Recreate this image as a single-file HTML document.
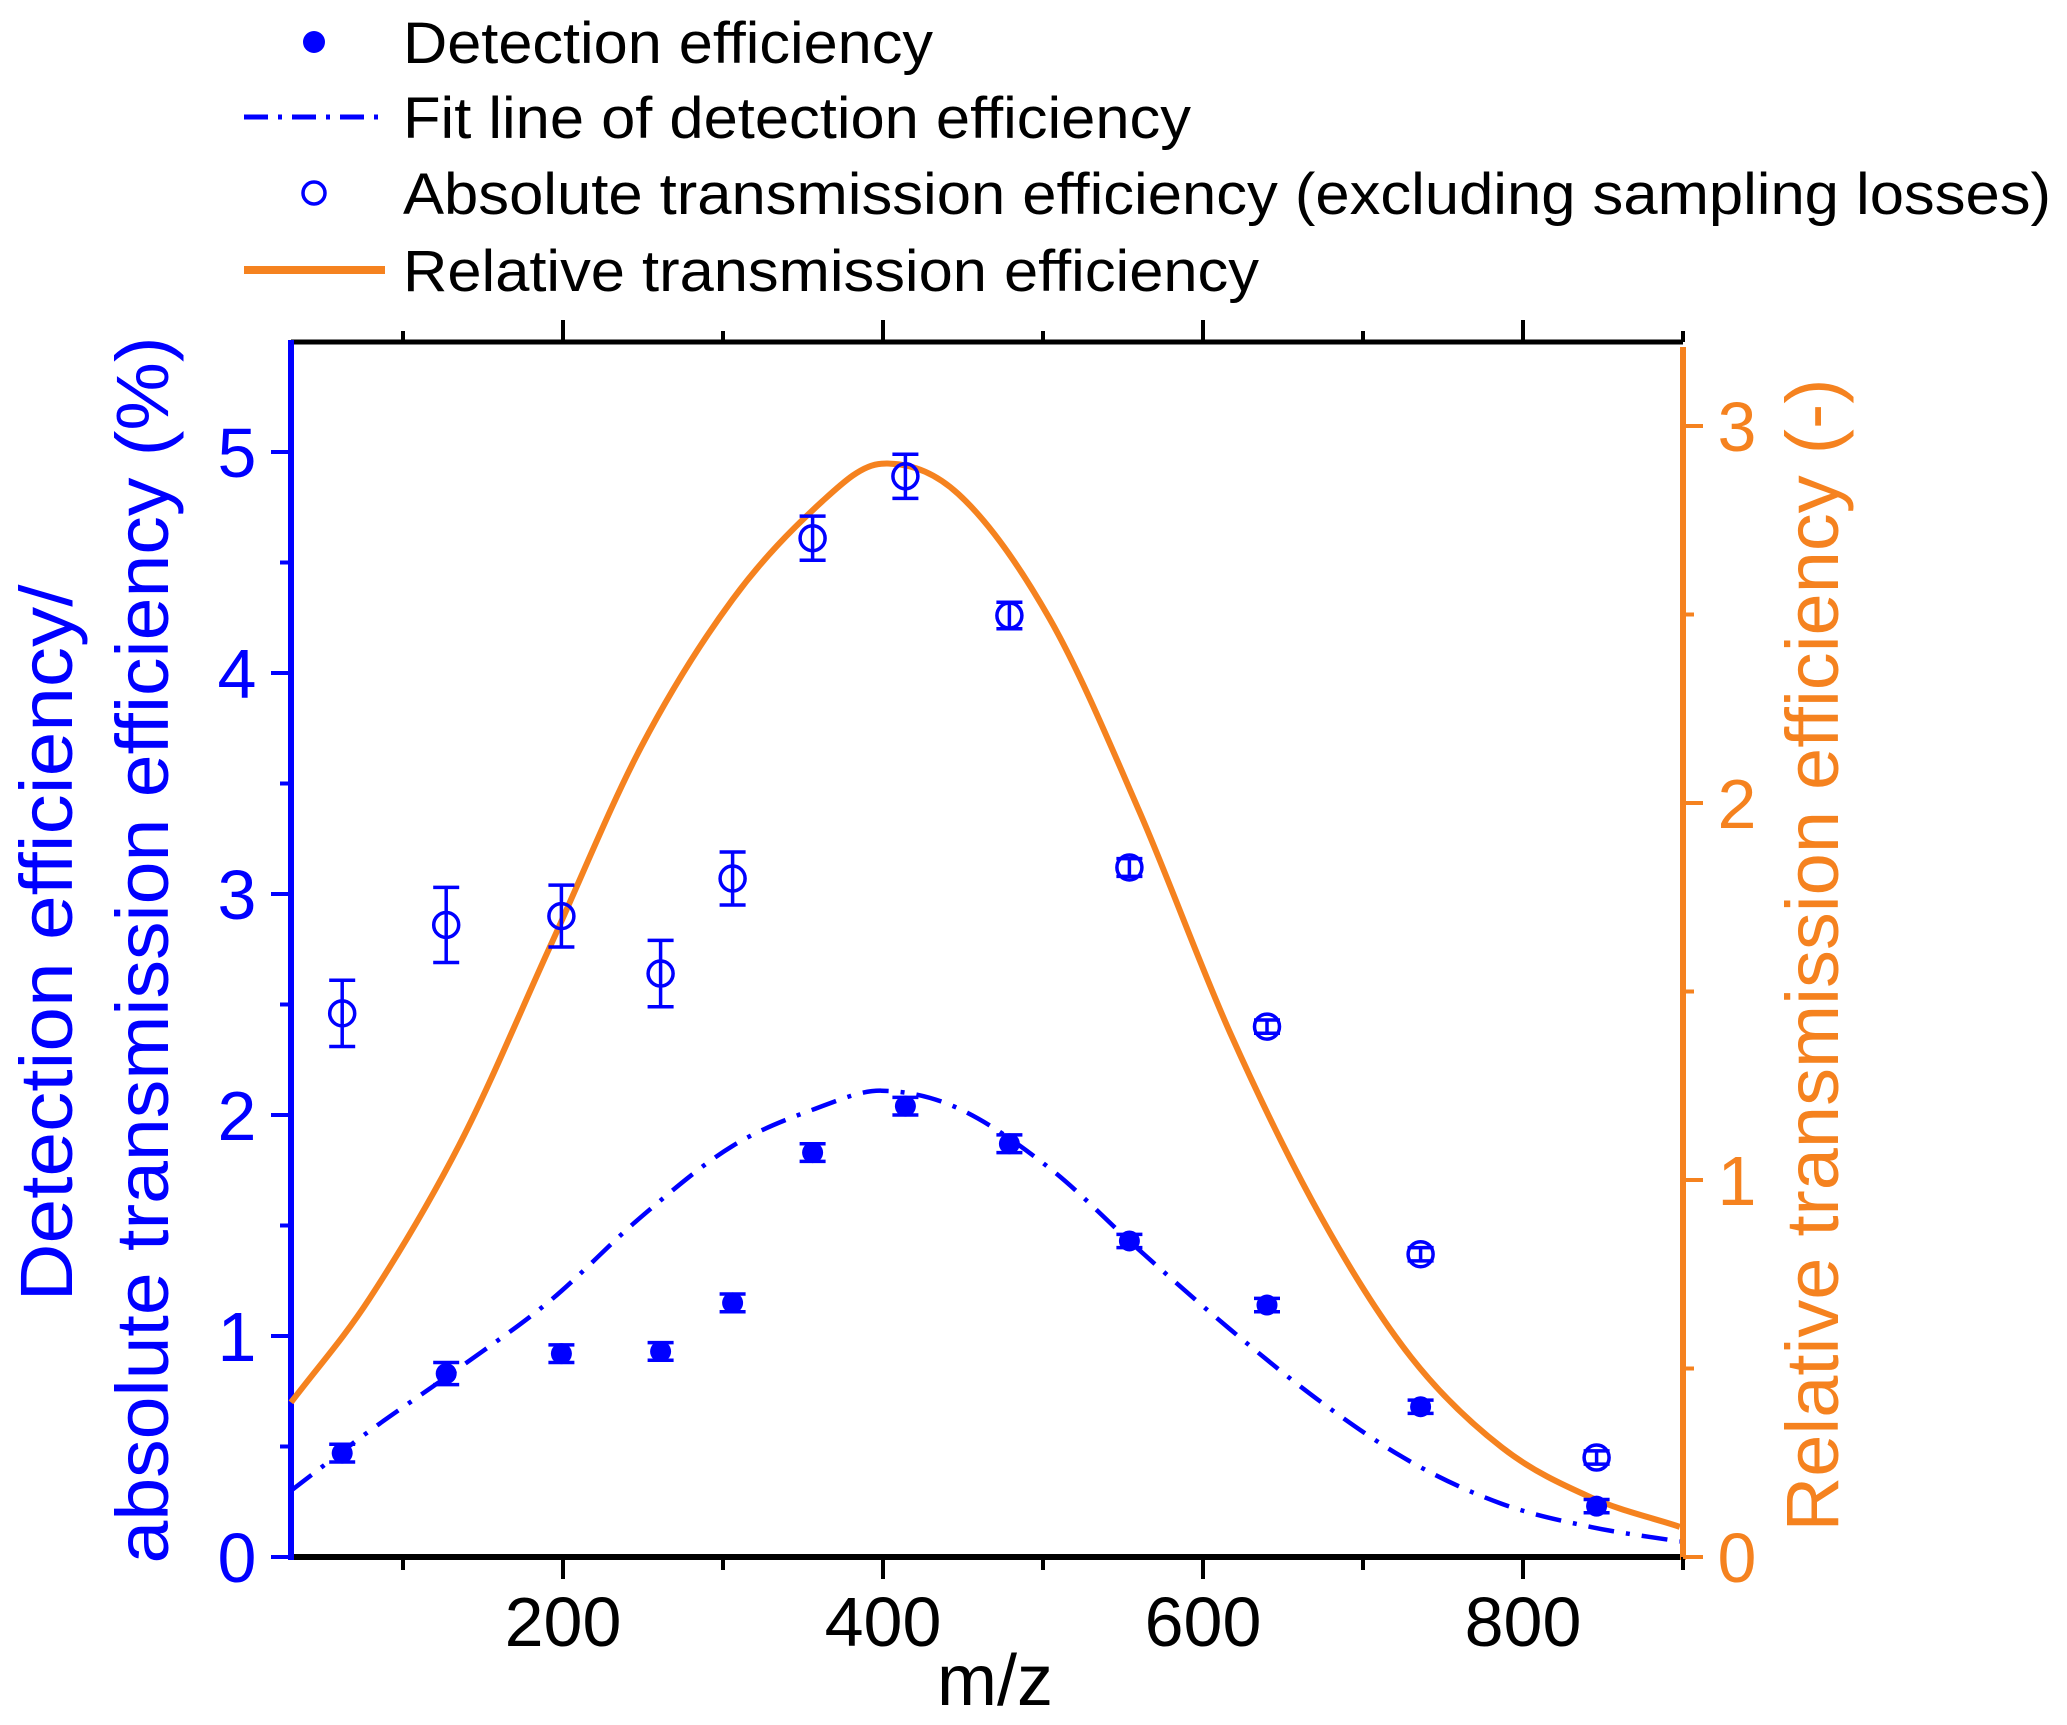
<!DOCTYPE html>
<html><head><meta charset="utf-8"><style>html,body{margin:0;padding:0;background:#fff}svg{display:block}text{font-family:"Liberation Sans",Arial,sans-serif}</style></head>
<body>
<svg id="chart" width="2067" height="1725" viewBox="0 0 2067 1725" xmlns="http://www.w3.org/2000/svg">
<g id="legend">
  <g>
    <circle cx="314" cy="42" r="11" fill="#0000ff"/>
    <text x="403" y="63" font-size="58" fill="#000" textLength="530" lengthAdjust="spacingAndGlyphs">Detection efficiency</text>
  </g>
  <g>
    <line x1="244" y1="117" x2="385" y2="117" stroke="#0000ff" stroke-width="5" stroke-dasharray="24,10,4,10"/>
    <text x="403" y="138" font-size="58" fill="#000" textLength="788" lengthAdjust="spacingAndGlyphs">Fit line of detection efficiency</text>
  </g>
  <g>
    <circle cx="314" cy="193" r="11" fill="#fff" stroke="#0000ff" stroke-width="3.5"/>
    <text x="403" y="214" font-size="58" fill="#000" textLength="1648" lengthAdjust="spacingAndGlyphs">Absolute transmission efficiency (excluding sampling losses)</text>
  </g>
  <g>
    <line x1="244" y1="270" x2="385" y2="270" stroke="#f5821f" stroke-width="8"/>
    <text x="403" y="291" font-size="58" fill="#000" textLength="856" lengthAdjust="spacingAndGlyphs">Relative transmission efficiency</text>
  </g>
</g>
<g id="axes"></g>
<g id="series"></g>
<text font-size="74" fill="#0000ff" text-anchor="middle" transform="translate(72,943) rotate(-90)" textLength="717" lengthAdjust="spacingAndGlyphs">Detection efficiency/</text>
<text font-size="74" fill="#0000ff" text-anchor="middle" transform="translate(168,950) rotate(-90)" textLength="1227" lengthAdjust="spacingAndGlyphs">absolute transmission efficiency (%)</text>
<text font-size="74" fill="#f5821f" text-anchor="middle" transform="translate(1838,955) rotate(-90)" textLength="1153" lengthAdjust="spacingAndGlyphs">Relative transmission efficiency (-)</text>
<text x="995" y="1705" font-size="72" fill="#000" text-anchor="middle">m/z</text>
</svg>
<script>
const xDet = [62,127,199,261,306,356,414,479,554,640,736,846];
const detVals = [0.47,0.83,0.92,0.93,1.15,1.83,2.04,1.87,1.43,1.14,0.68,0.23];
const detErr = [0.04,0.05,0.04,0.04,0.04,0.04,0.04,0.04,0.03,0.03,0.03,0.03];
const absVals = [2.46,2.86,2.90,2.64,3.07,4.61,4.89,4.26,3.12,2.40,1.37,0.45];
const absErr = [0.15,0.17,0.14,0.15,0.12,0.10,0.10,0.06,0.04,0.03,0.03,0.03];
const fitX = [30,79,136,192,249,306,362,399,447,504,560,617,674,730,787,843,898];
const fitVals = [0.30,0.57,0.86,1.16,1.54,1.86,2.04,2.11,2.03,1.76,1.39,1.03,0.70,0.43,0.24,0.135,0.07];
const relX = [30,79,136,192,249,306,362,399,447,504,560,617,674,730,787,843,898];
const relVals = [0.41,0.685,1.10,1.62,2.15,2.54,2.80,2.90,2.82,2.49,1.98,1.39,0.90,0.53,0.29,0.157,0.08];
const xTicks = [200,400,600,800];
const xMinor = [100,300,500,700,900];
const yLeftTicks = [0,1,2,3,4,5];
const yRightTicks = [0,1,2,3];

const NS = "http://www.w3.org/2000/svg";
const X0 = 291, X1 = 1683, Y0 = 1557, YT = 342;
const xs = v => X0 + (v - 30) * (X1 - X0) / 870;
const yl = v => Y0 - v * 221;
const yr = v => Y0 - v * 377;
function mk(parent, tag, attrs) { const e = document.createElementNS(NS, tag); for (const k in attrs) e.setAttribute(k, attrs[k]); parent.appendChild(e); return e; }
const axes = document.getElementById('axes');
const ser = document.getElementById('series');

let e;
e = mk(axes, 'line', {x1:X0, y1:YT, x2:X1, y2:YT, stroke:'#000', 'stroke-width':5});
 
e = mk(axes, 'line', {x1:X0, y1:Y0, x2:X1, y2:Y0, stroke:'#000', 'stroke-width':6});
 
e = mk(axes, 'line', {x1:X0, y1:YT-2, x2:X0, y2:Y0+3, stroke:'#0000ff', 'stroke-width':6});
 
e = mk(axes, 'line', {x1:X1, y1:YT+5, x2:X1, y2:Y0+3, stroke:'#f5821f', 'stroke-width':6});
 

xTicks.forEach(v => {
  e = mk(axes, 'line', {x1:xs(v), y1:Y0, x2:xs(v), y2:Y0+22, stroke:'#000', 'stroke-width':4});
   
  e = mk(axes, 'line', {x1:xs(v), y1:YT, x2:xs(v), y2:YT-22, stroke:'#000', 'stroke-width':4});
   
  e = mk(axes, 'text', {x:xs(v), y:1646, 'font-size':70, 'text-anchor':'middle', fill:'#000'});
  e.textContent = v;
   
});
xMinor.forEach(v => {
  e = mk(axes, 'line', {x1:xs(v), y1:Y0, x2:xs(v), y2:Y0+13, stroke:'#000', 'stroke-width':4});
   
  e = mk(axes, 'line', {x1:xs(v), y1:YT, x2:xs(v), y2:YT-11, stroke:'#000', 'stroke-width':4});
   
});
yLeftTicks.forEach(v => {
  e = mk(axes, 'line', {x1:X0, y1:yl(v), x2:X0-20, y2:yl(v), stroke:'#0000ff', 'stroke-width':4});
   
  if (yl(v+0.5) > YT) {
    e = mk(axes, 'line', {x1:X0, y1:yl(v+0.5), x2:X0-11, y2:yl(v+0.5), stroke:'#0000ff', 'stroke-width':4});
     
  }
  e = mk(axes, 'text', {x:237, y:yl(v)+25, 'font-size':70, 'text-anchor':'middle', fill:'#0000ff'});
  e.textContent = v;
   
});
yRightTicks.forEach(v => {
  e = mk(axes, 'line', {x1:X1, y1:yr(v), x2:X1+20, y2:yr(v), stroke:'#f5821f', 'stroke-width':4});
   
  if (yr(v+0.5) > YT) {
    e = mk(axes, 'line', {x1:X1, y1:yr(v+0.5), x2:X1+11, y2:yr(v+0.5), stroke:'#f5821f', 'stroke-width':4});
     
  }
  e = mk(axes, 'text', {x:1737, y:yr(v)+25, 'font-size':70, 'text-anchor':'middle', fill:'#f5821f'});
  e.textContent = v;
   
});

function smooth(pts) {
  const n = pts.length, m = [];
  for (let i = 0; i < n; i++) {
    const a = pts[Math.max(0, i-1)], b = pts[Math.min(n-1, i+1)];
    m.push((b[1]-a[1])/(b[0]-a[0]));
  }
  let d = 'M' + pts[0][0] + ',' + pts[0][1];
  for (let i = 0; i < n-1; i++) {
    const p1 = pts[i], p2 = pts[i+1], h = (p2[0]-p1[0])/3;
    d += ' C' + (p1[0]+h) + ',' + (p1[1]+m[i]*h) + ' ' + (p2[0]-h) + ',' + (p2[1]-m[i+1]*h) + ' ' + p2[0] + ',' + p2[1];
  }
  return d;
}
e = mk(ser, 'path', {d:smooth(relX.map((x,i)=>[xs(x), yr(relVals[i])])), fill:'none', stroke:'#f5821f', 'stroke-width':6});
 
e = mk(ser, 'path', {d:smooth(fitX.map((x,i)=>[xs(x), yl(fitVals[i])])), fill:'none', stroke:'#0000ff', 'stroke-width':4.5, 'stroke-dasharray':'26,12,4,12'});
 

function errbar(x, v, er, name) {
  const g = mk(ser, 'g', {stroke:'#0000ff', 'stroke-width':3.5});
   
  const cx = xs(x);
  mk(g, 'line', {x1:cx, y1:yl(v-er), x2:cx, y2:yl(v+er)});
  mk(g, 'line', {x1:cx-13, y1:yl(v-er), x2:cx+13, y2:yl(v-er)});
  mk(g, 'line', {x1:cx-13, y1:yl(v+er), x2:cx+13, y2:yl(v+er)});
}
xDet.forEach((x, i) => {
  errbar(x, absVals[i], absErr[i], 'abs-errorbar');
  e = mk(ser, 'circle', {cx:xs(x), cy:yl(absVals[i]), r:12.5, fill:'none', stroke:'#0000ff', 'stroke-width':3.5});
   
  errbar(x, detVals[i], detErr[i], 'det-errorbar');
  e = mk(ser, 'circle', {cx:xs(x), cy:yl(detVals[i]), r:10.5, fill:'#0000ff'});
   
});
</script>
</body></html>
